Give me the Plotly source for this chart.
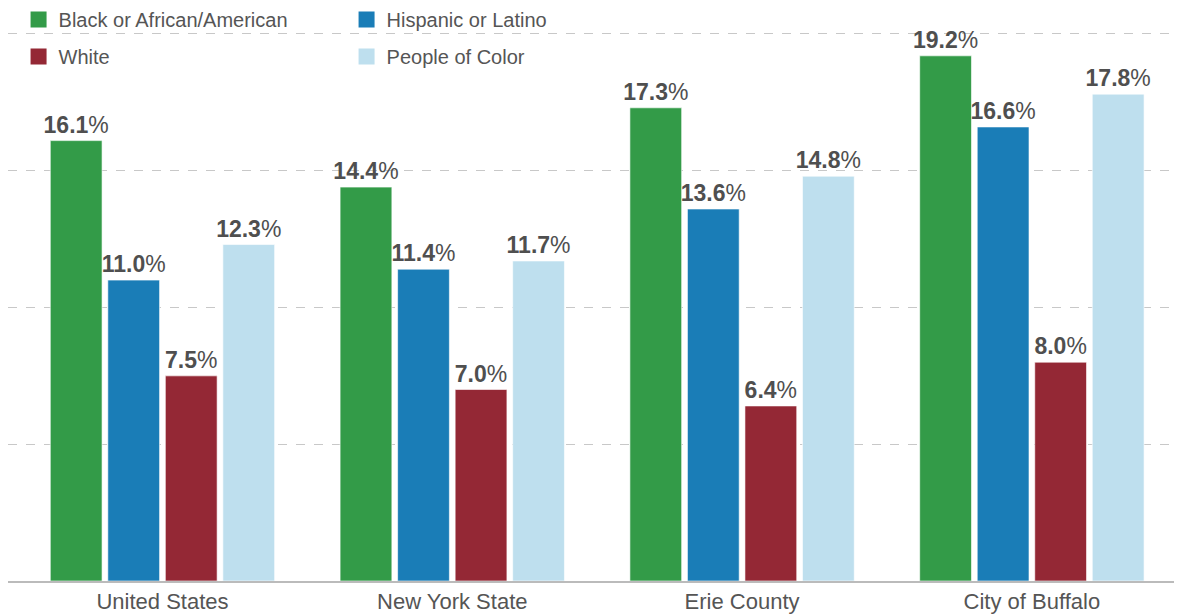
import plotly.graph_objects as go

categories = ["United States", "New York State", "Erie County", "City of Buffalo"]
black = [16.1, 14.4, 17.3, 19.2]
hispanic = [11.0, 11.4, 13.6, 16.6]
white = [7.5, 7.0, 6.4, 8.0]
poc = [12.3, 11.7, 14.8, 17.8]

series = [
    ("Black or African/American", black, "#339b48", "legend"),
    ("Hispanic or Latino", hispanic, "#1a7db7", "legend"),
    ("White", white, "#942835", "legend2"),
    ("People of Color", poc, "#bedfee", "legend2"),
]

FONT = "Liberation Sans, Arial, sans-serif"

fig = go.Figure()
for name, vals, color, leg in series:
    fig.add_trace(go.Bar(
        x=categories, y=vals, name=name, showlegend=False,
        marker=dict(color=color, line=dict(color="rgba(255,255,255,0.6)", width=1)),
        texttemplate="<b>%{y:.1f}</b>%",
        textposition="outside",
        constraintext="none",
        textfont=dict(family=FONT, size=23, color="#4f4f4f"),
        cliponaxis=False,
    ))
# legend entries (square swatches)
for name, vals, color, leg in series:
    fig.add_trace(go.Scatter(
        x=[None], y=[None], mode="markers", name=name,
        marker=dict(symbol="square", size=17, color=color),
        legend=leg, showlegend=True,
    ))

legend_common = dict(
    orientation="h", xref="container", yref="paper",
    xanchor="left", yanchor="top", bgcolor="rgba(0,0,0,0)",
    font=dict(family=FONT, size=20, color="#555555"),
    entrywidth=283, traceorder="normal",
)

fig.update_layout(
    width=1174, height=608,
    margin=dict(l=0, r=0, t=12, b=35, autoexpand=False),
    paper_bgcolor="white", plot_bgcolor="white",
    barmode="group", bargap=0.206, bargroupgap=0.1,
    legend=dict(x=0.009, y=1.0357, **legend_common),
    legend2=dict(x=0.009, y=0.9697, **legend_common),
    xaxis=dict(
        range=[-0.533, 3.518], showline=True, linecolor="#bbbbbb", linewidth=1.5,
        ticks="", showgrid=False,
        tickfont=dict(family=FONT, size=22, color="#555555"),
    ),
    yaxis=dict(
        range=[0, 20.51], tickvals=[5, 10, 15, 20], showticklabels=False,
        showgrid=True, gridcolor="#c8c8c8", griddash="dash", gridwidth=1,
        zeroline=False, showline=False,
    ),
)

fig.write_html("out.html")
